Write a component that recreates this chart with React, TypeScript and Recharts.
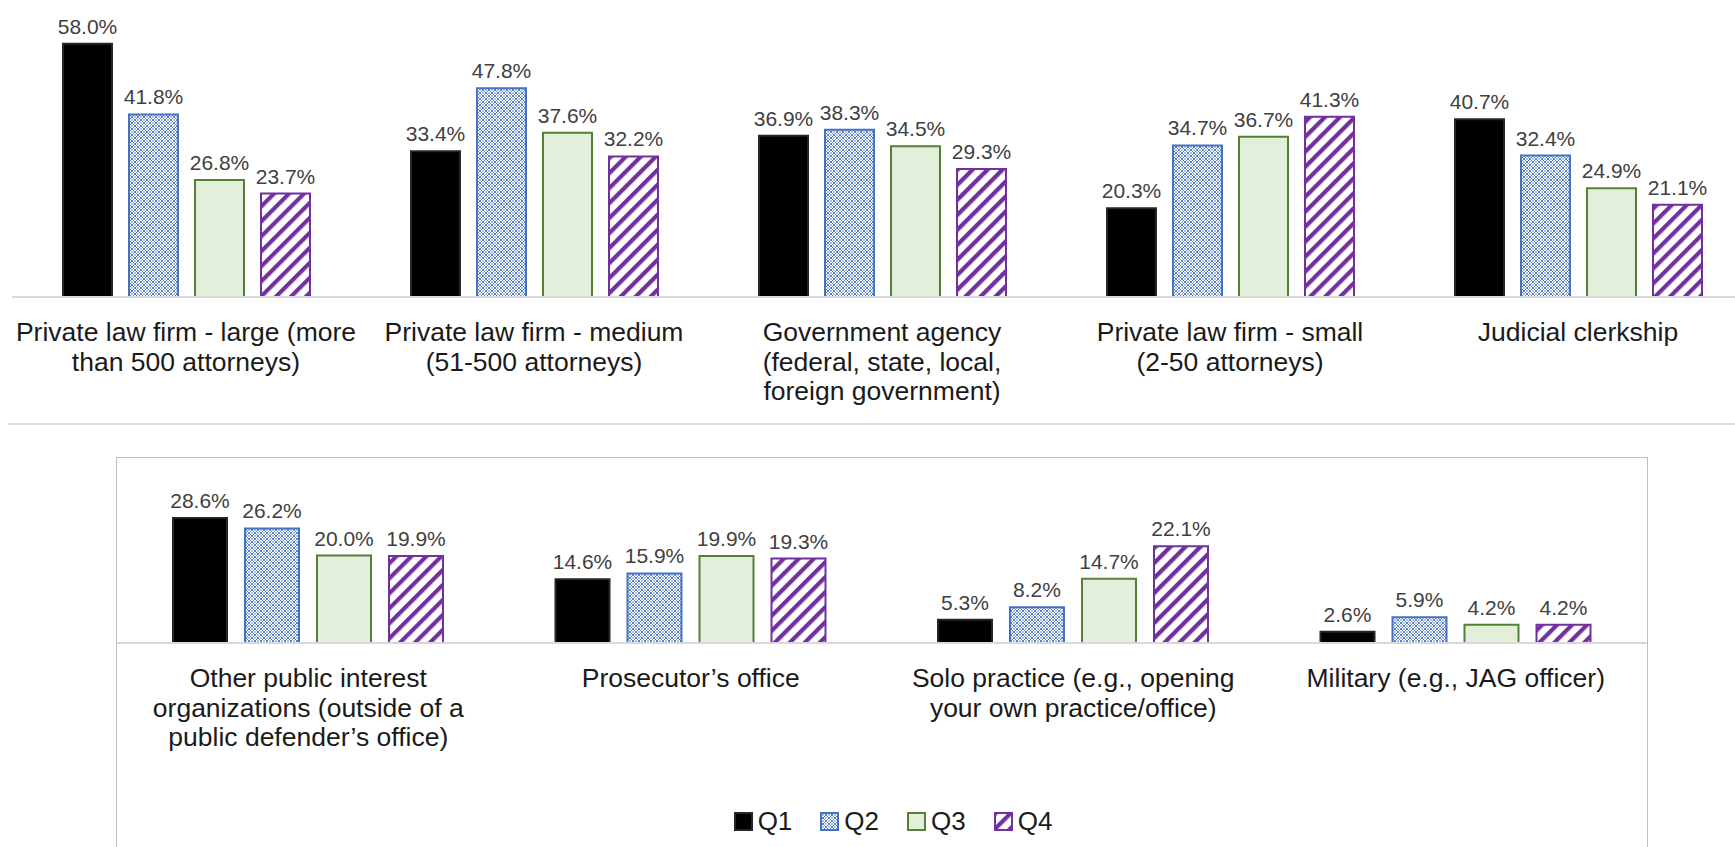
import React from 'react';
import { BarChart, Bar, XAxis, YAxis, LabelList, Legend } from 'recharts';

const FONT = '"Liberation Sans", Arial, sans-serif';

// upper panel
const topCategories = [
  'Private law firm - large (more than 500 attorneys)',
  'Private law firm - medium (51-500 attorneys)',
  'Government agency (federal, state, local, foreign government)',
  'Private law firm - small (2-50 attorneys)',
  'Judicial clerkship',
];
const topTickLines = [
  ['Private law firm - large (more', 'than 500 attorneys)'],
  ['Private law firm - medium', '(51-500 attorneys)'],
  ['Government agency', '(federal, state, local,', 'foreign government)'],
  ['Private law firm - small', '(2-50 attorneys)'],
  ['Judicial clerkship'],
];
const topQ1 = [58.0, 33.4, 36.9, 20.3, 40.7];
const topQ2 = [41.8, 47.8, 38.3, 34.7, 32.4];
const topQ3 = [26.8, 37.6, 34.5, 36.7, 24.9];
const topQ4 = [23.7, 32.2, 29.3, 41.3, 21.1];

// lower panel
const bottomCategories = [
  'Other public interest organizations (outside of a public defender’s office)',
  'Prosecutor’s office',
  'Solo practice (e.g., opening your own practice/office)',
  'Military (e.g., JAG officer)',
];
const bottomTickLines = [
  ['Other public interest', 'organizations (outside of a', 'public defender’s office)'],
  ['Prosecutor’s office'],
  ['Solo practice (e.g., opening', 'your own practice/office)'],
  ['Military (e.g., JAG officer)'],
];
const bottomQ1 = [28.6, 14.6, 5.3, 2.6];
const bottomQ2 = [26.2, 15.9, 8.2, 5.9];
const bottomQ3 = [20.0, 19.9, 14.7, 4.2];
const bottomQ4 = [19.9, 19.3, 22.1, 4.2];

const seriesNames = ['Q1', 'Q2', 'Q3', 'Q4'];

const seriesStyle = [
  { key: 'q1', fill: '#000000', stroke: '#262626' },
  { key: 'q2', fill: 'url(#q2Grid)', stroke: '#4472C4' },
  { key: 'q3', fill: '#E2EFDA', stroke: '#548235' },
  { key: 'q4', fill: 'url(#q4Stripe)', stroke: '#7030A0' },
];

const toRows = (cats: string[], q1: number[], q2: number[], q3: number[], q4: number[]) =>
  cats.map((name, i) => ({ name, q1: q1[i], q2: q2[i], q3: q3[i], q4: q4[i] }));

const topData = toRows(topCategories, topQ1, topQ2, topQ3, topQ4);
const bottomData = toRows(bottomCategories, bottomQ1, bottomQ2, bottomQ3, bottomQ4);

const pct = (v: any) => `${Number(v).toFixed(1)}%`;

const CategoryTick = (props: any) => {
  const { x, y, payload, lines } = props;
  const rows: string[] = lines[payload.index] ?? [String(payload.value)];
  return (
    <text x={x} y={y} textAnchor="middle" fontSize={26.5} fill="#1a1a1a" fontFamily={FONT}>
      {rows.map((r, i) => (
        <tspan key={i} x={x} dy={i === 0 ? 44 : 29.5}>
          {r}
        </tspan>
      ))}
    </text>
  );
};

const Patterns = () => (
  <svg width={0} height={0} style={{ position: 'absolute' }}>
    <defs>
      <pattern id="q2Grid" patternUnits="userSpaceOnUse" width={6} height={6}>
        <rect width={6} height={6} fill="#ffffff" />
        <path d="M0,3 L3,0 L6,3 L3,6 Z" fill="none" stroke="#4472C4" strokeWidth={0.9} />
        <circle cx={3} cy={3} r={0.8} fill="#4472C4" />
        <circle cx={0} cy={0} r={0.8} fill="#4472C4" />
        <circle cx={6} cy={0} r={0.8} fill="#4472C4" />
        <circle cx={0} cy={6} r={0.8} fill="#4472C4" />
        <circle cx={6} cy={6} r={0.8} fill="#4472C4" />
      </pattern>
      <pattern id="q4Stripe" patternUnits="userSpaceOnUse" width={10.6} height={10.6} patternTransform="rotate(45)">
        <rect width={10.6} height={10.6} fill="#ffffff" />
        <rect x={0} y={0} width={4.2} height={10.6} fill="#7030A0" />
      </pattern>
    </defs>
  </svg>
);

const renderBars = (barSize: number) =>
  seriesStyle.map((s, i) => (
    <Bar
      key={s.key}
      dataKey={s.key}
      name={seriesNames[i]}
      fill={s.fill}
      stroke={s.stroke}
      strokeWidth={2}
      barSize={barSize}
      isAnimationActive={false}
    >
      <LabelList
        dataKey={s.key}
        position="top"
        offset={10}
        formatter={pct}
        fill="#404040"
        fontSize={21}
        fontFamily={FONT}
      />
    </Bar>
  ));

const LegendContent = () => (
  <div
    style={{
      display: 'flex',
      justifyContent: 'center',
      alignItems: 'center',
      height: 30,
      paddingLeft: 22,
      fontSize: 26,
      fontFamily: FONT,
      color: '#1a1a1a',
    }}
  >
    {seriesStyle.map((s, i) => (
      <div key={s.key} style={{ display: 'flex', alignItems: 'center', marginLeft: i === 0 ? 0 : 28 }}>
        <svg width={19} height={19}>
          <rect x={1} y={1} width={17} height={17} fill={s.fill} stroke={s.stroke} strokeWidth={2} />
        </svg>
        <span style={{ marginLeft: 5 }}>{seriesNames[i]}</span>
      </div>
    ))}
  </div>
);

export default function App() {
  return (
    <div
      style={{
        position: 'absolute',
        left: 0,
        top: 0,
        width: 1735,
        height: 847,
        overflow: 'hidden',
        background: '#ffffff',
        fontFamily: FONT,
      }}
    >
      <Patterns />

      <div style={{ position: 'absolute', left: 0, top: 0 }}>
        <BarChart
          width={1760}
          height={417}
          data={topData}
          margin={{ top: 35, right: 8, left: 12, bottom: 0 }}
          barGap={17}
        >
          <XAxis
            dataKey="name"
            height={120}
            interval={0}
            tickLine={false}
            tickSize={0}
            tickMargin={0}
            axisLine={{ stroke: '#d9d9d9', strokeWidth: 2 }}
            tick={<CategoryTick lines={topTickLines} />}
          />
          <YAxis hide domain={[0, 60]} />
          {renderBars(49)}
        </BarChart>
      </div>

      <div
        style={{
          position: 'absolute',
          left: 8,
          right: 0,
          top: 423,
          borderTop: '2px solid #dcdcdc',
        }}
      />

      <div
        style={{
          position: 'absolute',
          left: 116,
          top: 457,
          width: 1532,
          height: 400,
          border: '1px solid #bfbfbf',
          boxSizing: 'border-box',
        }}
      >
        <BarChart
          width={1530}
          height={398}
          data={bottomData}
          margin={{ top: 10, right: 0, left: 0, bottom: 20 }}
          barGap={18}
        >
          <XAxis
            dataKey="name"
            height={163}
            interval={0}
            tickLine={false}
            tickSize={0}
            tickMargin={0}
            axisLine={{ stroke: '#d9d9d9', strokeWidth: 2 }}
            tick={<CategoryTick lines={bottomTickLines} />}
          />
          <YAxis hide domain={[0, 40]} />
          {renderBars(54)}
          <Legend verticalAlign="bottom" content={<LegendContent />} />
        </BarChart>
      </div>
    </div>
  );
}
